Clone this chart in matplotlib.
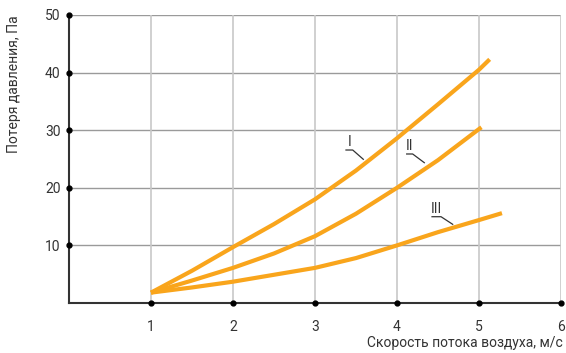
import matplotlib
matplotlib.use("Agg")
import matplotlib.pyplot as plt
from matplotlib import font_manager

# data
speed_1 = [1, 1.5, 2, 2.5, 3, 3.5, 4, 4.5, 5, 5.13]
loss_1 = [1.8, 5.6, 9.7, 13.7, 18.0, 23.0, 28.6, 34.5, 40.5, 42.3]

speed_2 = [1, 1.5, 2, 2.5, 3, 3.5, 4, 4.5, 5, 5.03]
loss_2 = [1.8, 3.9, 6.1, 8.6, 11.6, 15.5, 20.0, 24.8, 30.2, 30.5]

speed_3 = [1, 1.5, 2, 2.5, 3, 3.5, 4, 4.5, 5, 5.28]
loss_3 = [1.8, 2.7, 3.7, 4.9, 6.1, 7.8, 10.0, 12.3, 14.4, 15.6]

curve_names = ["I", "II", "III"]
x_ticks = [1, 2, 3, 4, 5, 6]
y_ticks = [10, 20, 30, 40, 50]

names = {f.name for f in font_manager.fontManager.ttflist}
family = "Roboto" if "Roboto" in names else "DejaVu Sans"
plt.rcParams["font.family"] = [family, "DejaVu Sans"]

orange = "#F9A51C"
dark = "#333333"

fig = plt.figure(figsize=(5.66, 3.53), dpi=100)
ax = fig.add_axes([69 / 566, 50 / 353, 492 / 566, 288 / 353])

ax.set_xlim(0, 6)
ax.set_ylim(0, 50)

# grid: horizontal darker, vertical lighter
for y in y_ticks:
    ax.axhline(y, color="#9a9a9a", lw=1.0, zorder=1)
for x in x_ticks:
    ax.axvline(x, color="#c8c8c8", lw=1.2, zorder=1)

for sx, sy in [(speed_1, loss_1), (speed_2, loss_2), (speed_3, loss_3)]:
    ax.plot(sx, sy, color=orange, lw=3.0, solid_capstyle="butt",
            solid_joinstyle="round", zorder=3)

# curve labels with leader lines (underline + diagonal)
label_pos = [(3.42, 26.56, 3.378, 3.46, 3.589, 24.95),
             (4.154, 25.87, 4.118, 4.191, 4.333, 24.36),
             (4.48, 14.98, 4.427, 4.537, 4.679, 13.66)]
for name, (tx, ty, ux0, ux1, ex, ey) in zip(curve_names, label_pos):
    ax.text(tx, ty + 0.1, name, ha="center", va="bottom", fontsize=10,
            color=dark, zorder=4)
    ax.plot([ux0, ux1, ex], [ty, ty, ey], color=dark, lw=0.9, zorder=4)

for side in ["top", "right"]:
    ax.spines[side].set_visible(False)
for side in ["left", "bottom"]:
    ax.spines[side].set_color(dark)
    ax.spines[side].set_linewidth(1.5)

ax.set_xticks(x_ticks)
ax.set_yticks(y_ticks)
ax.tick_params(length=0, labelsize=10, labelcolor=dark, pad=12)
ax.tick_params(axis="y", pad=6)

# dots on the axes at each tick
ax.plot(x_ticks, [0] * len(x_ticks), "o", color="black", ms=3.5,
        clip_on=False, zorder=5)
ax.plot([0] * len(y_ticks), y_ticks, "o", color="black", ms=3.5,
        clip_on=False, zorder=5)

ax.set_xlabel("Скорость потока воздуха, м/с", fontsize=10, color=dark,
              ha="right", va="center")
ax.xaxis.set_label_coords(1.004, -0.139)
ax.set_ylabel("Потеря давления, Па", fontsize=10, color=dark,
              ha="right", va="center")
ax.yaxis.set_label_coords(-0.112, 1.0)

fig.savefig("out.png", dpi=100)
